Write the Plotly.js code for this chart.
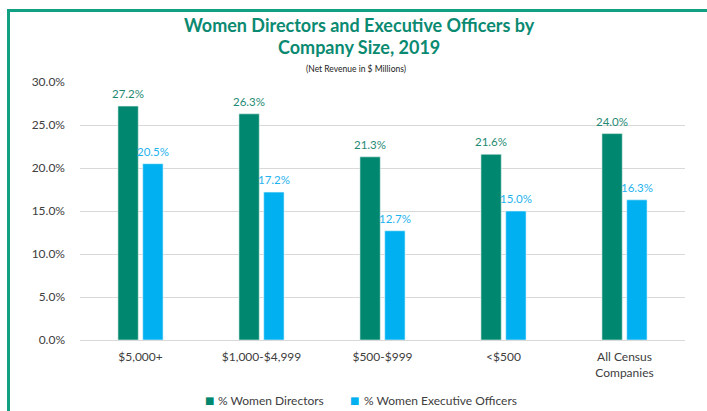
<!DOCTYPE html>
<html>
<head>
<meta charset="utf-8">
<script src="https://cdn.plot.ly/plotly-3.0.1.min.js"></script>
<style>
  html, body { margin: 0; padding: 0; background: #ffffff; }
  #chart { width: 707px; height: 411px; }
</style>
</head>
<body>
<div id="chart"></div>
<script>
const categories = ["$5,000+", "$1,000-$4,999", "$500-$999", "<$500", "All Census<br>Companies"];
const womenDirectors = [27.2, 26.3, 21.3, 21.6, 24.0];
const womenExecOfficers = [20.5, 17.2, 12.7, 15.0, 16.3];
const seriesNames = ["% Women Directors", "% Women Executive Officers"];
const yTickVals = [0, 5, 10, 15, 20, 25, 30];
const titleLines = ["Women Directors and Executive Officers by", "Company Size, 2019"];
const subtitle = "(Net Revenue in $ Millions)";

const green = "#00876F";
const blue = "#00B0F0";
const fontFam = "Lato, 'Open Sans', sans-serif";

// plot area in pixels: x 80..685, y 82..340
const L = 80, R = 685, T = 82, B = 340;
const px = v => (v - L) / (R - L);
const py = v => (B - v) / (B - T);
const bargap = 0.59;
const slotPx = (R - L) / categories.length * (1 - bargap) / 2;

const traces = [
  {
    type: "bar", name: seriesNames[0], x: categories, y: womenDirectors,
    marker: { color: green, line: { color: "#e6f3f0", width: 0.6 } },
    hoverinfo: "none", showlegend: false
  },
  {
    type: "bar", name: seriesNames[1], x: categories, y: womenExecOfficers,
    marker: { color: blue, line: { color: "#e6f6fd", width: 0.6 } },
    hoverinfo: "none", showlegend: false
  }
];

const valueLabels = [];
[[womenDirectors, -0.5, "#1f8a74"], [womenExecOfficers, 0.5, "#1fb3ee"]].forEach(([vals, side, col]) => {
  vals.forEach((v, i) => {
    valueLabels.push({
      xref: "x", yref: "y", x: categories[i], y: v, xshift: side * slotPx, yshift: 4,
      xanchor: "center", yanchor: "bottom", showarrow: false,
      text: v.toFixed(1) + "%", font: { family: fontFam, size: 11.5, color: col }
    });
  });
});

const annotations = [
  { text: "<b>" + titleLines[0] + "</b>", x: px(359), y: py(25), font: { family: fontFam, size: 18, color: "#0b8a72" } },
  { text: "<b>" + titleLines[1] + "</b>", x: px(359), y: py(47), font: { family: fontFam, size: 18, color: "#0b8a72" } },
  { text: subtitle, x: px(356), y: py(69), font: { family: fontFam, size: 8.5, color: "#222222" } },
  { text: "■", x: px(209), y: py(400), font: { family: "DejaVu Sans", size: 10, color: green } },
  { text: seriesNames[0], x: px(216), y: py(400), xanchor: "left", font: { family: fontFam, size: 12, color: "#404040" } },
  { text: "■", x: px(354), y: py(400), font: { family: "DejaVu Sans", size: 10, color: blue } },
  { text: seriesNames[1], x: px(362), y: py(400), xanchor: "left", font: { family: fontFam, size: 12, color: "#404040" } }
].map(a => Object.assign({ xref: "paper", yref: "paper", xanchor: "center", yanchor: "middle", showarrow: false }, a))
 .concat(valueLabels);

const layout = {
  width: 707, height: 411,
  margin: { l: L, r: 707 - R, t: T, b: 411 - B },
  paper_bgcolor: "#ffffff", plot_bgcolor: "#ffffff",
  font: { family: fontFam, color: "#404040", size: 12 },
  barmode: "group", bargap: bargap, bargroupgap: 0.18,
  showlegend: false,
  annotations: annotations,
  xaxis: {
    type: "category", showgrid: false, zeroline: false,
    showline: true, linecolor: "#d9d9d9", linewidth: 1,
    ticks: "", tickfont: { size: 12, color: "#404040" }, ticklabelstandoff: 6
  },
  yaxis: {
    range: [0, 30], tickvals: yTickVals, ticktext: yTickVals.map(v => v.toFixed(1) + "%"),
    showgrid: true, gridcolor: "#d9d9d9", gridwidth: 1, zeroline: false,
    showline: false, ticks: "", tickfont: { size: 12, color: "#404040" }, ticklabelstandoff: 14
  },
  shapes: [
    {
      type: "rect", xref: "paper", yref: "paper",
      x0: px(8.5), x1: 1.2, y0: -0.6, y1: py(10.5),
      line: { color: "#12a084", width: 3 }, fillcolor: "rgba(0,0,0,0)", layer: "below"
    }
  ]
};

Plotly.newPlot("chart", traces, layout, { displayModeBar: false, staticPlot: true });
</script>
</body>
</html>
